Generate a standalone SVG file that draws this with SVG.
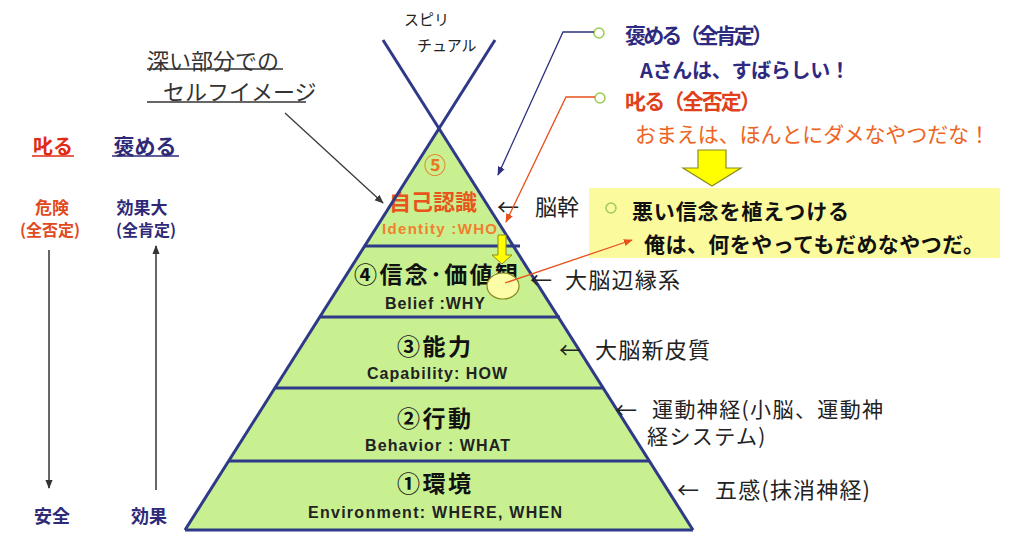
<svg xmlns="http://www.w3.org/2000/svg" width="1015" height="534" viewBox="0 0 1015 534">
<defs>
<style>
.jp{font-family:"Noto Sans CJK JP","Noto Sans",sans-serif;dominant-baseline:central}
.lat{font-family:"Liberation Sans",Arial,sans-serif;font-weight:bold;dominant-baseline:central}
.b{font-weight:bold}
.layer{fill:#c8f091;stroke:none}
.sep{stroke:#2e3a87;stroke-width:3;fill:none}
.lbl{font-size:22px;fill:#222}
.title{font-size:23px;font-weight:bold;fill:#111;letter-spacing:2px}
.bullet{fill:none;stroke:#9ccc55;stroke-width:1.5}
.ul{stroke-width:1.3;fill:none}
</style>
<marker id="ahGray" viewBox="0 0 10 10" refX="9" refY="5" markerWidth="7" markerHeight="7" orient="auto-start-reverse"><path d="M0,1 L10,5 L0,9 z" fill="#3a3a3a"/></marker>
<marker id="ahBlue" viewBox="0 0 10 10" refX="9" refY="5" markerWidth="7" markerHeight="7" orient="auto-start-reverse"><path d="M0,1 L10,5 L0,9 z" fill="#2e3080"/></marker>
<marker id="ahOrange" viewBox="0 0 10 10" refX="9" refY="5" markerWidth="7" markerHeight="7" orient="auto-start-reverse"><path d="M0,1 L10,5 L0,9 z" fill="#e8501c"/></marker>
<marker id="ahBlack" viewBox="0 0 10 10" refX="9" refY="5" markerWidth="6" markerHeight="6" orient="auto-start-reverse"><path d="M0,1 L10,5 L0,9 z" fill="#333"/></marker>
</defs>
<rect width="1015" height="534" fill="#ffffff"/>

<!-- pyramid layers -->
<g id="layer5">
<polygon class="layer" points="439,128 513.6,246 364.4,246"/>
<text class="jp b" x="435" y="163" font-size="22" fill="#e87722" text-anchor="middle">⑤</text>
<text class="jp b" x="433" y="200" font-size="22" fill="#e8541c" text-anchor="middle">自己認識</text>
<text class="lat" x="382" y="228" font-size="15" fill="#f0802e" textLength="115" lengthAdjust="spacing">Identity :WHO</text>
</g>
<g id="layer4">
<polygon class="layer" points="364.4,246 513.6,246 558.4,317 319.6,317"/>
<text class="jp title" x="354" y="273" textLength="166" lengthAdjust="spacing">④信念･価値観</text>
<text class="lat" x="385" y="303" font-size="16" fill="#222" textLength="100" lengthAdjust="spacing">Belief :WHY</text>
</g>
<g id="layer3">
<polygon class="layer" points="319.6,317 558.4,317 603.3,388 274.7,388"/>
<text class="jp title" x="397" y="345" textLength="76" lengthAdjust="spacing">③能力</text>
<text class="lat" x="367" y="373" font-size="16" fill="#222" textLength="140" lengthAdjust="spacing">Capability: HOW</text>
</g>
<g id="layer2">
<polygon class="layer" points="274.7,388 603.3,388 649.5,461 228.5,461"/>
<text class="jp title" x="397" y="417" textLength="76" lengthAdjust="spacing">②行動</text>
<text class="lat" x="365" y="445" font-size="16" fill="#222" textLength="145" lengthAdjust="spacing">Behavior : WHAT</text>
</g>
<g id="layer1">
<polygon class="layer" points="228.5,461 649.5,461 693,530 185,530"/>
<text class="jp title" x="397" y="482" textLength="76" lengthAdjust="spacing">①環境</text>
<text class="lat" x="308" y="512" font-size="16" fill="#222" textLength="254" lengthAdjust="spacing">Environment: WHERE, WHEN</text>
</g>

<!-- pyramid outline (crossing lines) -->
<g id="pyramid-lines">
<line class="sep" x1="383" y1="40" x2="693" y2="530"/>
<line class="sep" x1="495" y1="40" x2="185" y2="530"/>
<line class="sep" x1="364" y1="246" x2="520" y2="246"/>
<line class="sep" x1="319" y1="317" x2="560" y2="317"/>
<line class="sep" x1="274" y1="388" x2="604" y2="388"/>
<line class="sep" x1="228" y1="461" x2="650" y2="461"/>
<line class="sep" x1="185" y1="530" x2="693" y2="530"/>
</g>

<!-- top label -->
<g id="spiritual">
<text class="jp" x="404" y="18" font-size="15" fill="#222">スピリ</text>
<text class="jp" x="417" y="44" font-size="15" fill="#222">チュアル</text>
</g>

<g id="selfimage">
<text class="jp" x="147" y="59" font-size="22" fill="#333">深い部分での</text>
<line class="ul" x1="147" y1="69" x2="283" y2="69" stroke="#333"/>
<text class="jp" x="163" y="90" font-size="22" fill="#333">セルフイメージ</text>
<line class="ul" x1="147" y1="102" x2="306" y2="102" stroke="#333"/>
</g>

<!-- left side -->
<g id="scold-col">
<text class="jp b" x="53" y="145" font-size="20" fill="#e02a14" text-anchor="middle">叱る</text>
<line class="ul" x1="32" y1="156" x2="74" y2="156" stroke="#e02a14"/>
<text class="jp b" x="52" y="206" font-size="17" fill="#e04a1c" text-anchor="middle">危険</text>
<text class="jp b" x="50" y="229" font-size="16" fill="#e04a1c" text-anchor="middle">(全否定)</text>
<text class="jp b" x="52" y="515" font-size="18" fill="#2e2a78" text-anchor="middle">安全</text>
</g>
<g id="praise-col">
<text class="jp b" x="145" y="145" font-size="21" fill="#2e2a78" text-anchor="middle">褒める</text>
<line class="ul" x1="112" y1="156" x2="179" y2="156" stroke="#2e2a78"/>
<text class="jp b" x="142" y="206" font-size="17" fill="#2e2a78" text-anchor="middle">効果大</text>
<text class="jp b" x="146" y="229" font-size="16" fill="#2e2a78" text-anchor="middle">(全肯定)</text>
<text class="jp b" x="149" y="515" font-size="18" fill="#2e2a78" text-anchor="middle">効果</text>
</g>

<!-- right side labels -->
<g id="brainstem">
<text class="jp lbl" x="497" y="205">←</text>
<text class="jp lbl" x="535" y="205">脳幹</text>
</g>
<g id="limbic">
<text class="jp lbl" x="530" y="278">←</text>
<text class="jp lbl" x="565" y="278" textLength="115" lengthAdjust="spacing">大脳辺縁系</text>
</g>
<g id="neocortex">
<text class="jp lbl" x="559" y="348">←</text>
<text class="jp lbl" x="595" y="348" textLength="115" lengthAdjust="spacing">大脳新皮質</text>
</g>
<g id="motor">
<text class="jp lbl" x="615" y="408">←</text>
<text class="jp lbl" style="font-size:21px;letter-spacing:1.4px"><tspan x="652" y="408">運動神経(小脳、運動神</tspan><tspan x="647" y="435">経システム)</tspan></text>
</g>
<g id="senses">
<text class="jp lbl" x="677" y="488">←</text>
<text class="jp lbl" x="715" y="488" textLength="155" lengthAdjust="spacing">五感(抹消神経)</text>
</g>

<!-- top right -->
<g id="praise">
<circle class="bullet" cx="599" cy="33" r="5"/>
<text class="jp b" x="625" y="34" font-size="21" fill="#2e2a80" textLength="148" lengthAdjust="spacing">褒める（全肯定）</text>
<text class="jp b" x="640" y="69" font-size="20" fill="#2e2a80" textLength="210" lengthAdjust="spacing">Aさんは、すばらしい！</text>
</g>
<g id="scold">
<circle class="bullet" cx="600" cy="98" r="5"/>
<text class="jp b" x="625" y="100" font-size="21" fill="#e0401a" textLength="136" lengthAdjust="spacing">叱る（全否定）</text>
<text class="jp" x="635" y="133" font-size="21" fill="#ee6422" textLength="355" lengthAdjust="spacing">おまえは、ほんとにダメなやつだな！</text>
</g>
<g id="bigarrow">
<polygon points="698,150 726,150 726,168 741,168 712,186 683,168 698,168" fill="#ffff00" stroke="#8a8a20" stroke-width="1.2"/>
</g>
<g id="belief-box">
<rect x="589" y="188" width="411" height="70" fill="#fbfb9e"/>
<circle class="bullet" cx="611" cy="208" r="5"/>
<text class="jp b" x="632" y="210" font-size="21" fill="#111" textLength="217" lengthAdjust="spacing">悪い信念を植えつける</text>
<text class="jp b" x="644" y="243" font-size="21" fill="#111" textLength="340" lengthAdjust="spacing">俺は、何をやってもだめなやつだ。</text>
</g>

<g id="smallarrow">
<polygon points="498,235 506,235 506,255 512,255 502,264 492,255 498,255" fill="#ffff00" stroke="#8a8a20" stroke-width="1"/>
</g>
<g id="ellipse">
<ellipse cx="503" cy="286" rx="16" ry="13" fill="#fdfda8" stroke="#8a8a20" stroke-width="1.2"/>
</g>

<!-- connectors -->
<g id="connectors" fill="none">
<line x1="285" y1="113" x2="383" y2="203" stroke="#3a3a3a" stroke-width="1.3" marker-end="url(#ahGray)"/>
<polyline points="594,32 563,32 498,175" stroke="#2e3080" stroke-width="1.3" marker-end="url(#ahBlue)"/>
<polyline points="595,97 566,97 506,222" stroke="#e8501c" stroke-width="1.3" marker-end="url(#ahOrange)"/>
<line x1="505" y1="283" x2="632" y2="240" stroke="#e8501c" stroke-width="1.3" marker-end="url(#ahOrange)"/>
<line x1="49" y1="250" x2="49" y2="488" stroke="#333" stroke-width="1.5" marker-end="url(#ahBlack)"/>
<line x1="156" y1="490" x2="156" y2="246" stroke="#333" stroke-width="1.5" marker-end="url(#ahBlack)"/>
</g>
</svg>
